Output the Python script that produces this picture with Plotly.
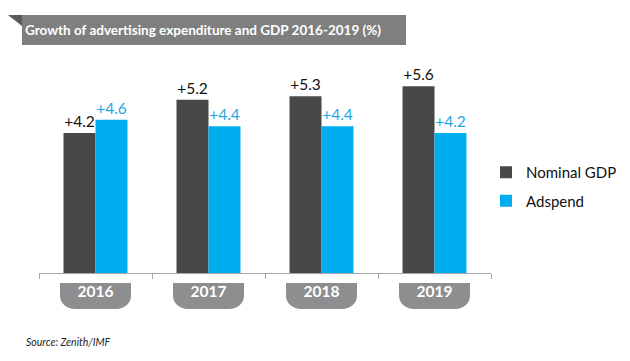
import plotly.graph_objects as go

years = ["2016", "2017", "2018", "2019"]
nominal_gdp = [4.2, 5.2, 5.3, 5.6]
adspend = [4.6, 4.4, 4.4, 4.2]

title_text = "Growth of advertising expenditure and GDP 2016-2019 (%)"
source_text = "Source: Zenith/IMF"

GDP_COLOR = "#48484a"
AD_COLOR = "#00adef"
AD_TEXT = "#1ea6e3"
BADGE = "#8e8e90"
FONT = "Lato"

fig = go.Figure()
fig.add_trace(go.Bar(
    x=years, y=nominal_gdp, name="Nominal GDP", legendgroup="g1",
    marker=dict(color=GDP_COLOR, line=dict(width=0)),
    texttemplate="+%{y:.1f}", textposition="outside",
    outsidetextfont=dict(color="#111111", size=15.5, family=FONT),
    constraintext="none", cliponaxis=False,
))
fig.add_trace(go.Bar(
    x=years, y=adspend, name="Adspend", legendgroup="g2",
    marker=dict(color=AD_COLOR, line=dict(width=0)),
    texttemplate="+%{y:.1f}", textposition="outside",
    outsidetextfont=dict(color=AD_TEXT, size=15.5, family=FONT),
    constraintext="none", cliponaxis=False,
))

# plot area: x 39..491 px, y 73..273 px
W, H = 452.0, 200.0
def px(x):
    return (x - 39) / W
def py(y):
    return (273 - y) / H

shapes = []
# title banner
shapes.append(dict(type="rect", xref="paper", yref="paper",
                   x0=px(22), x1=px(406), y0=py(45), y1=py(15),
                   fillcolor="#7f7f7f", line=dict(width=0), layer="below"))
shapes.append(dict(type="path", xref="paper", yref="paper",
                   path=f"M{px(8)},{py(15)} L{px(22)},{py(15)} L{px(22)},{py(26)} Z",
                   fillcolor="#595959", line=dict(width=0)))

# year badges under each category
hw = 35.5 / 113.0
rx = 15 / 113.0
yt, yb = py(283), py(309)
ry = 13 / H
k = 0.55
for i, _ in enumerate(years):
    x0, x1 = i - hw, i + hw
    path = (f"M{x0},{yt} L{x1},{yt} L{x1},{yb + ry} "
            f"C{x1},{yb + ry * (1 - k)} {x1 - rx * (1 - k)},{yb} {x1 - rx},{yb} "
            f"L{x0 + rx},{yb} "
            f"C{x0 + rx * (1 - k)},{yb} {x0},{yb + ry * (1 - k)} {x0},{yb + ry} Z")
    shapes.append(dict(type="path", xref="x", yref="paper", path=path,
                       fillcolor=BADGE, line=dict(width=0), layer="below"))

fig.update_layout(
    width=630, height=361,
    margin=dict(l=39, r=139, t=73, b=88, autoexpand=False),
    paper_bgcolor="white", plot_bgcolor="white",
    font=dict(family=FONT, color="#222222"),
    barmode="group", bargap=0.434, bargroupgap=0,
    showlegend=True,
    legend=dict(x=px(486), xanchor="left", y=py(186.5), yanchor="middle",
                font=dict(size=15, family=FONT, color="#111111"),
                bgcolor="rgba(0,0,0,0)", itemwidth=30,
                traceorder="grouped", tracegroupgap=6),
    title=dict(text=title_text, xref="container", yref="container",
               x=25 / 630, xanchor="left", y=1 - 30 / 361, yanchor="middle",
               font=dict(family=FONT, size=13.5, color="white", weight="bold")),
    shapes=shapes,
    annotations=[dict(text=f"<i>{source_text}</i>", xref="paper", yref="paper",
                      x=px(24), y=py(342), xanchor="left", yanchor="middle",
                      showarrow=False, font=dict(size=10.5, color="#222222", family=FONT))],
)
fig.update_xaxes(
    type="category", showline=True, linecolor="#a6a6a6", linewidth=1,
    ticks="outside", tickson="boundaries", ticklen=5, tickcolor="#a6a6a6",
    tickfont=dict(family=FONT, size=15.5, color="white", weight="bold"),
    ticklabelstandoff=4, showgrid=False, zeroline=False,
)
fig.update_yaxes(range=[0, 6], visible=False, showgrid=False, zeroline=False)

fig.write_html("out.html", config={"displayModeBar": False},
               post_script="document.body.style.margin='0';")
